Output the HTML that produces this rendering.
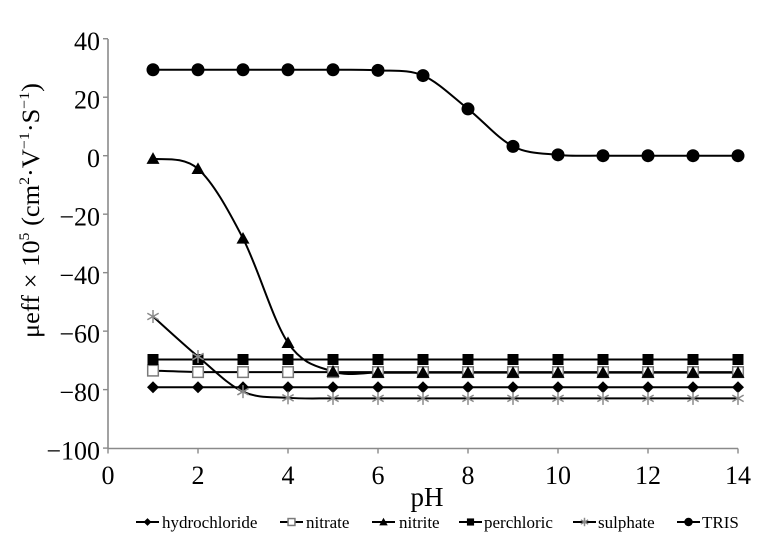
<!DOCTYPE html>
<html><head><meta charset="utf-8">
<style>
html,body{margin:0;padding:0;background:#fff;}
svg{display:block;}
text{font-family:"Liberation Serif",serif;fill:#000;}
</style></head>
<body>
<svg id="c" width="757" height="541" viewBox="0 0 757 541" xmlns="http://www.w3.org/2000/svg">
<rect width="757" height="541" fill="#fff"/>
<g id="axes" stroke="#8a8a8a" stroke-width="1.6" fill="none">
<line x1="108" y1="39" x2="108" y2="448.5"/>
<line x1="108" y1="448.5" x2="738" y2="448.5"/>
</g>
<g id="ticks" stroke="#8a8a8a" stroke-width="1.4"></g>
<g id="ylabels" font-size="26" text-anchor="end"></g>
<g id="xlabels" font-size="26" text-anchor="middle"></g>
<text x="427" y="506" font-size="27" text-anchor="middle">pH</text>
<text transform="translate(39,210.5) rotate(-90)" font-size="25" text-anchor="middle" textLength="255" lengthAdjust="spacingAndGlyphs">μeff × 10<tspan font-size="15" dy="-10">5</tspan><tspan dy="10"> (cm</tspan><tspan font-size="15" dy="-10">2</tspan><tspan dy="10">·V</tspan><tspan font-size="15" dy="-10">−1</tspan><tspan dy="10">·S</tspan><tspan font-size="15" dy="-10">−1</tspan><tspan dy="10">)</tspan></text>
<g id="lines" fill="none" stroke="#000" stroke-width="2"></g>
<g id="marks"></g>
<g id="legend" font-size="17"></g>
</svg>
<script>
(function(){
var NS="http://www.w3.org/2000/svg";
function el(tag,attrs,parent,txt){var e=document.createElementNS(NS,tag);for(var k in attrs)e.setAttribute(k,attrs[k]);if(txt!==undefined)e.textContent=txt;parent.appendChild(e);return e;}
function X(v){return 108+45*v;}
function Y(v){return 155.7-2.924*v;}
var ticks=document.getElementById('ticks'),yl=document.getElementById('ylabels'),xl=document.getElementById('xlabels');
for(var v=40;v>=-100;v-=20){var y=Y(v);el('line',{x1:103,y1:y,x2:108,y2:y},ticks);el('text',{x:100,y:y+11.5},yl,(v<0?'\u2212':'')+Math.abs(v));}
for(var p=0;p<=14;p+=2){var x=X(p);el('line',{x1:x,y1:448.5,x2:x,y2:453.5},ticks);el('text',{x:x,y:484},xl,String(p));}
function fill(a,n,v){while(a.length<n)a.push(v);return a;}
var S=[
 {n:'hydrochloride',m:'diamond',d:fill([],14,-79.2)},
 {n:'nitrate',m:'hsquare',d:fill([-73.5],14,-74)},
 {n:'nitrite',m:'tri',d:fill([-1,-4.5,-28.3,-64,-73.8],14,-74.2)},
 {n:'perchloric',m:'square',d:fill([],14,-69.7)},
 {n:'sulphate',m:'star',d:fill([-55,-68.7,-80.7,-82.8],14,-83)},
 {n:'TRIS',m:'circle',d:[29.4,29.4,29.4,29.4,29.4,29.2,27.4,16,3.2,0.3,0,0,0,0]}
];
var lines=document.getElementById('lines'),marks=document.getElementById('marks');
function path(pts){var d='M'+pts[0][0]+','+pts[0][1];for(var i=0;i<pts.length-1;i++){var p0=pts[i-1]||pts[i],p1=pts[i],p2=pts[i+1],p3=pts[i+2]||p2;var c1=[p1[0]+(p2[0]-p0[0])/6,p1[1]+(p2[1]-p0[1])/6],c2=[p2[0]-(p3[0]-p1[0])/6,p2[1]-(p3[1]-p1[1])/6];d+=' C'+c1[0].toFixed(2)+','+c1[1].toFixed(2)+' '+c2[0].toFixed(2)+','+c2[1].toFixed(2)+' '+p2[0].toFixed(2)+','+p2[1].toFixed(2);}return d;}
function marker(type,x,y,s,g){
 s=s||1;
 if(type==='diamond'){var r=6*s;el('polygon',{points:(x)+','+(y-r)+' '+(x+r)+','+y+' '+x+','+(y+r)+' '+(x-r)+','+y,fill:'#000'},g);}
 else if(type==='square'){var h=5.5*s;el('rect',{x:x-h,y:y-h,width:2*h,height:2*h,fill:'#000'},g);}
 else if(type==='hsquare'){var h=5.3*s;el('rect',{x:x-h,y:y-h,width:2*h,height:2*h,fill:'#fff',stroke:'#7a7a7a','stroke-width':1.5},g);}
 else if(type==='tri'){var r=6.5*s;el('polygon',{points:x+','+(y-r)+' '+(x+r)+','+(y+r*0.8)+' '+(x-r)+','+(y+r*0.8),fill:'#000'},g);}
 else if(type==='circle'){el('circle',{cx:x,cy:y,r:6.5*s,fill:'#000'},g);}
 else if(type==='star'){var r=6.5*s,a=r*0.87,b=r*0.5;var st={stroke:'#8a8a8a','stroke-width':1.5};
  el('line',Object.assign({x1:x,y1:y-r,x2:x,y2:y+r},st),g);
  el('line',Object.assign({x1:x-a,y1:y-b,x2:x+a,y2:y+b},st),g);
  el('line',Object.assign({x1:x-a,y1:y+b,x2:x+a,y2:y-b},st),g);}
}
S.forEach(function(s){var pts=s.d.map(function(v,i){return [X(i+1),Y(v)];});el('path',{d:path(pts)},lines);});
S.forEach(function(s){s.d.forEach(function(v,i){marker(s.m,X(i+1),Y(v),1,marks);});});
// legend
var lg=document.getElementById('legend');
var L=[[136,162],[280,306],[372,399],[459,484],[573,598],[677,702]];
S.forEach(function(s,i){var x0=L[i][0],tx=L[i][1],cy=522;
 el('line',{x1:x0,y1:cy,x2:x0+23,y2:cy,stroke:'#000','stroke-width':2},lg);
 marker(s.m,x0+11.5,cy,0.65,lg);
 el('text',{x:tx,y:528},lg,s.n);
});
})();
</script>
</body></html>
